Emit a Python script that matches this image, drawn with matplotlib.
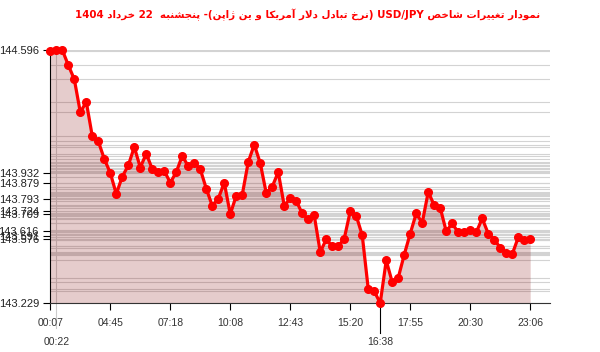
import re
import numpy as np
import matplotlib
matplotlib.use('Agg')
import matplotlib.pyplot as plt
import matplotlib.transforms as mtransforms

title = 'نمودار تغییرات شاخص USD/JPY (نرخ تبادل دلار آمریکا و ین ژاپن)- پنجشنبه  22 خرداد 1404'

prices = [144.591, 144.596, 144.596, 144.514, 144.438, 144.260, 144.315, 144.130, 144.103, 144.007,
          143.932, 143.818, 143.912, 143.972, 144.072, 143.961, 144.036, 143.952, 143.936, 143.943,
          143.879, 143.936, 144.025, 143.967, 143.985, 143.952, 143.847, 143.754, 143.793, 143.879,
          143.709, 143.809, 143.814, 143.991, 144.085, 143.985, 143.822, 143.858, 143.936, 143.754,
          143.795, 143.780, 143.713, 143.682, 143.702, 143.504, 143.573, 143.535, 143.535, 143.577,
          143.724, 143.700, 143.595, 143.305, 143.292, 143.229, 143.459, 143.341, 143.365, 143.490,
          143.604, 143.713, 143.662, 143.829, 143.757, 143.744, 143.616, 143.659, 143.610, 143.610,
          143.622, 143.610, 143.686, 143.604, 143.572, 143.528, 143.499, 143.492, 143.583, 143.572,
          143.576]
xlabels = ['00:07', '04:45', '07:18', '10:08', '12:43', '15:20', '17:55', '20:30', '23:06']
ylabels = [144.596, 143.932, 143.879, 143.793, 143.724, 143.709, 143.616, 143.591, 143.576, 143.229]
max_time = '00:22'
min_time = '16:38'

# --- very small persian shaper + bidi (matplotlib has no shaping) ---
forms = {
    '\u0622': ('\uFE81', '\uFE82'), '\u0627': ('\uFE8D', '\uFE8E'),
    '\u0628': ('\uFE8F', '\uFE90', '\uFE91', '\uFE92'), '\u067E': ('\uFB56', '\uFB57', '\uFB58', '\uFB59'),
    '\u062A': ('\uFE95', '\uFE96', '\uFE97', '\uFE98'), '\u062C': ('\uFE9D', '\uFE9E', '\uFE9F', '\uFEA0'),
    '\u062E': ('\uFEA5', '\uFEA6', '\uFEA7', '\uFEA8'), '\u062F': ('\uFEA9', '\uFEAA'),
    '\u0631': ('\uFEAD', '\uFEAE'), '\u0698': ('\uFB8A', '\uFB8B'),
    '\u0634': ('\uFEB5', '\uFEB6', '\uFEB7', '\uFEB8'), '\u0635': ('\uFEB9', '\uFEBA', '\uFEBB', '\uFEBC'),
    '\u063A': ('\uFECD', '\uFECE', '\uFECF', '\uFED0'), '\u06A9': ('\uFB8E', '\uFB8F', '\uFB90', '\uFB91'),
    '\u0644': ('\uFEDD', '\uFEDE', '\uFEDF', '\uFEE0'), '\u0645': ('\uFEE1', '\uFEE2', '\uFEE3', '\uFEE4'),
    '\u0646': ('\uFEE5', '\uFEE6', '\uFEE7', '\uFEE8'), '\u0647': ('\uFEE9', '\uFEEA', '\uFEEB', '\uFEEC'),
    '\u0648': ('\uFEED', '\uFEEE'), '\u06CC': ('\uFBFC', '\uFBFD', '\uFBFE', '\uFBFF'),
}
lamalef = {'\u0627': ('\uFEFB', '\uFEFC'), '\u0622': ('\uFEF5', '\uFEF6')}


def shape(word):
    word = word.replace('\u064A', '\u06CC').replace('\u0643', '\u06A9')
    out = []
    i = 0
    while i < len(word):
        c = word[i]
        prev = word[i-1] if i > 0 else None
        pj = prev is not None and prev in forms and len(forms[prev]) == 4
        if c == '\u0644' and i+1 < len(word) and word[i+1] in lamalef:
            out.append(lamalef[word[i+1]][1 if pj else 0])
            i += 2
            continue
        nxt = word[i+1] if i+1 < len(word) else None
        nj = nxt is not None and nxt in forms
        f = forms.get(c)
        if f is None:
            out.append(c)
        elif len(f) == 4:
            out.append(f[3] if (pj and nj) else f[1] if pj else f[2] if nj else f[0])
        else:
            out.append(f[1] if pj else f[0])
        i += 1
    return ''.join(out)


def visual(s):
    toks = re.findall(r'[\u0600-\u06FF]+|[A-Za-z0-9/.]+|.', s)
    res = []
    for t in toks[::-1]:
        if re.match(r'[\u0600-\u06FF]', t):
            res.append(shape(t)[::-1])
        elif t == '(':
            res.append(')')
        elif t == ')':
            res.append('(')
        else:
            res.append(t)
    return ''.join(res)


x = np.arange(len(prices))
ymin, ymax = min(prices), max(prices)

fig = plt.figure(figsize=(6, 3.52), dpi=100)
ax = fig.add_axes([50/600, 49/352, 500/600, 253/352])

for v in prices:
    ax.axhline(v, color='#d3d3d3', linewidth=0.8, zorder=1)
ax.fill_between(x, prices, ymin, color='#800000', alpha=0.2, linewidth=0, zorder=2)
ax.plot(x, prices, color='#ff0000', linewidth=2.3, marker='o', markersize=5.5,
        zorder=4, clip_on=False)

ax.set_xlim(-0.05, 83.3)
ax.set_ylim(ymin, ymax)
for s in ['top', 'right']:
    ax.spines[s].set_visible(False)
ax.spines['left'].set_color('black')
ax.spines['bottom'].set_color('#333333')

ax.set_xticks(x[::10])
ax.set_xticklabels(xlabels, fontsize=7.5, color='#333333', family='Liberation Sans')
ax.set_yticks(ylabels)
ax.set_yticklabels(['%.3f' % v for v in ylabels], fontsize=8, color='#222222', family='Liberation Sans')
ax.tick_params(axis='x', length=5, width=0.8, pad=6, color='black')
ax.tick_params(axis='y', length=5, width=0.8, pad=3, color='black')

trans = mtransforms.blended_transform_factory(ax.transData, ax.transAxes)
imax = prices.index(ymax)
imin = prices.index(ymin)
ax.plot([imax, imax], [1.0, -0.1], color='#cccccc', linewidth=0.8, transform=trans, clip_on=False, zorder=1)
ax.plot([imin, imin], [0, -0.12], color='black', linewidth=0.8, transform=trans, clip_on=False, zorder=3)
ax.text(imax, -0.135, max_time, transform=trans, ha='center', va='top', fontsize=7.5,
        color='#333333', family='Liberation Sans')
ax.text(imin, -0.135, min_time, transform=trans, ha='center', va='top', fontsize=7.5,
        color='#333333', family='Liberation Sans')

fig.text(308/600, 1 - 15/352, visual(title), ha='center', va='center', color='#ff0000',
         fontsize=7.4, fontweight='bold', family='DejaVu Sans')

fig.savefig('out.png', dpi=100)
